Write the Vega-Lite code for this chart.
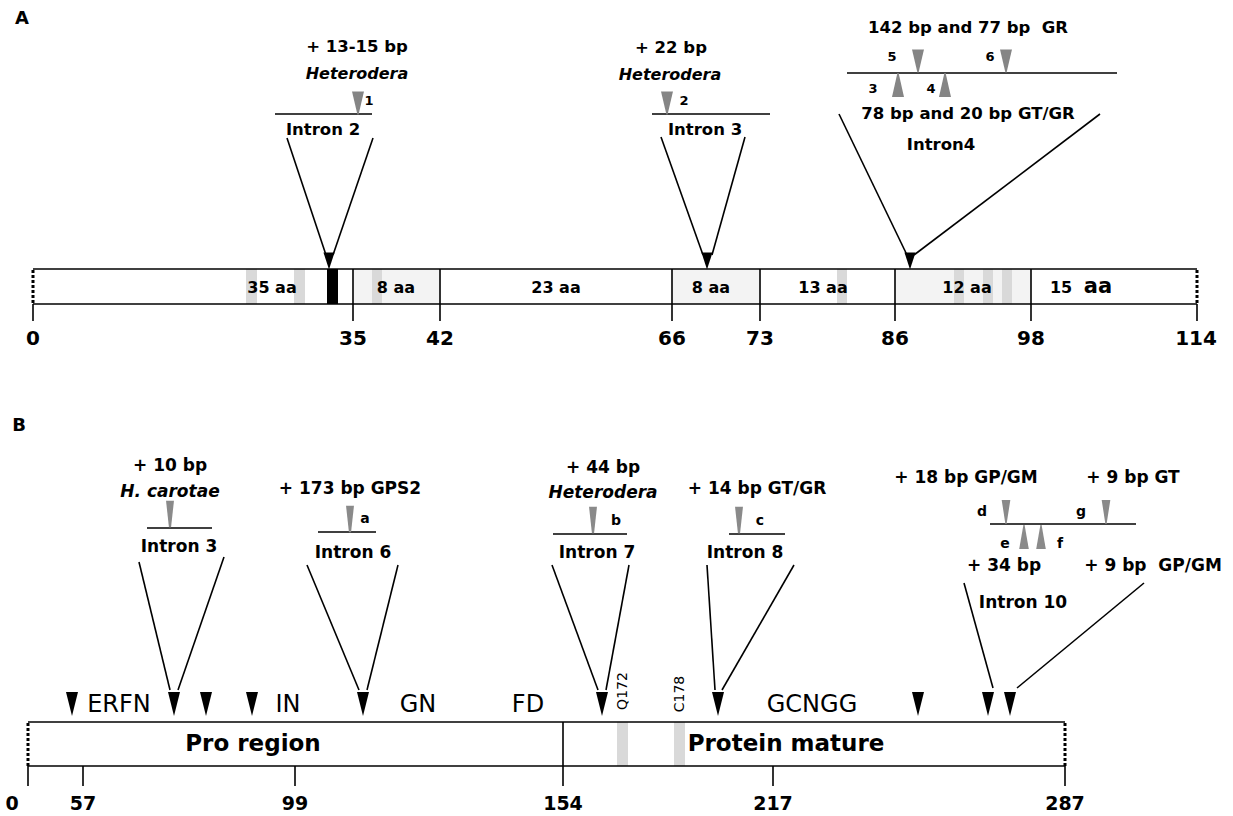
{
  "$schema": "https://vega.github.io/schema/vega-lite/v6.json",
  "width": 1233,
  "height": 816,
  "autosize": {"type": "fit", "contains": "padding"},
  "padding": 0,
  "background": "white",
  "config": {"view": {"stroke": null}},
  "datasets": {
    "boxes": [
      {"x": 353, "x2": 440, "y": 269, "y2": 304, "kind": "dotted"},
      {"x": 672, "x2": 760, "y": 269, "y2": 304, "kind": "dotted"},
      {"x": 895, "x2": 1031, "y": 269, "y2": 304, "kind": "dotted"},
      {"x": 246, "x2": 257, "y": 269, "y2": 304, "kind": "stripe"},
      {"x": 294, "x2": 305, "y": 269, "y2": 304, "kind": "stripe"},
      {"x": 372, "x2": 382, "y": 269, "y2": 304, "kind": "stripe"},
      {"x": 837, "x2": 847, "y": 269, "y2": 304, "kind": "stripe"},
      {"x": 954, "x2": 964, "y": 269, "y2": 304, "kind": "stripe"},
      {"x": 983, "x2": 993, "y": 269, "y2": 304, "kind": "stripe"},
      {"x": 1002, "x2": 1012, "y": 269, "y2": 304, "kind": "stripe"},
      {"x": 327, "x2": 338, "y": 269, "y2": 304, "kind": "black"},
      {"x": 617, "x2": 628, "y": 722, "y2": 766, "kind": "stripe"},
      {"x": 674, "x2": 685, "y": 722, "y2": 766, "kind": "stripe"}
    ],
    "segments": [
      {"x": 33, "y": 269, "x2": 1197, "y2": 269, "kind": "solid"},
      {"x": 33, "y": 304, "x2": 1197, "y2": 304, "kind": "solid"},
      {"x": 33, "y": 304, "x2": 33, "y2": 321, "kind": "solid"},
      {"x": 353, "y": 269, "x2": 353, "y2": 321, "kind": "solid"},
      {"x": 440, "y": 269, "x2": 440, "y2": 321, "kind": "solid"},
      {"x": 672, "y": 269, "x2": 672, "y2": 321, "kind": "solid"},
      {"x": 760, "y": 269, "x2": 760, "y2": 321, "kind": "solid"},
      {"x": 895, "y": 269, "x2": 895, "y2": 321, "kind": "solid"},
      {"x": 1031, "y": 269, "x2": 1031, "y2": 321, "kind": "solid"},
      {"x": 1197, "y": 304, "x2": 1197, "y2": 321, "kind": "solid"},
      {"x": 33, "y": 270, "x2": 33, "y2": 304, "kind": "dot"},
      {"x": 1197, "y": 270, "x2": 1197, "y2": 304, "kind": "dot"},
      {"x": 275, "y": 114, "x2": 372, "y2": 114, "kind": "solid"},
      {"x": 287, "y": 138, "x2": 326, "y2": 255, "kind": "solid"},
      {"x": 373, "y": 138, "x2": 333, "y2": 255, "kind": "solid"},
      {"x": 652, "y": 114, "x2": 770, "y2": 114, "kind": "solid"},
      {"x": 661, "y": 137, "x2": 703, "y2": 255, "kind": "solid"},
      {"x": 745, "y": 137, "x2": 712, "y2": 255, "kind": "solid"},
      {"x": 847, "y": 73, "x2": 1117, "y2": 73, "kind": "solid"},
      {"x": 839, "y": 114, "x2": 907, "y2": 255, "kind": "solid"},
      {"x": 1100, "y": 114, "x2": 914, "y2": 255, "kind": "solid"},
      {"x": 28, "y": 722, "x2": 1065, "y2": 722, "kind": "solid"},
      {"x": 28, "y": 766, "x2": 1065, "y2": 766, "kind": "solid"},
      {"x": 563, "y": 722, "x2": 563, "y2": 786, "kind": "solid"},
      {"x": 28, "y": 766, "x2": 28, "y2": 786, "kind": "solid"},
      {"x": 83, "y": 766, "x2": 83, "y2": 786, "kind": "solid"},
      {"x": 295, "y": 766, "x2": 295, "y2": 786, "kind": "solid"},
      {"x": 773, "y": 766, "x2": 773, "y2": 786, "kind": "solid"},
      {"x": 1065, "y": 766, "x2": 1065, "y2": 786, "kind": "solid"},
      {"x": 28, "y": 723, "x2": 28, "y2": 766, "kind": "dot"},
      {"x": 1065, "y": 723, "x2": 1065, "y2": 766, "kind": "dot"},
      {"x": 147, "y": 528, "x2": 212, "y2": 528, "kind": "solid"},
      {"x": 139, "y": 562, "x2": 170, "y2": 690, "kind": "solid"},
      {"x": 224, "y": 557, "x2": 178, "y2": 690, "kind": "solid"},
      {"x": 318, "y": 532, "x2": 376, "y2": 532, "kind": "solid"},
      {"x": 307, "y": 565, "x2": 359, "y2": 690, "kind": "solid"},
      {"x": 398, "y": 565, "x2": 367, "y2": 690, "kind": "solid"},
      {"x": 553, "y": 534, "x2": 627, "y2": 534, "kind": "solid"},
      {"x": 552, "y": 565, "x2": 598, "y2": 690, "kind": "solid"},
      {"x": 629, "y": 565, "x2": 606, "y2": 690, "kind": "solid"},
      {"x": 729, "y": 534, "x2": 785, "y2": 534, "kind": "solid"},
      {"x": 707, "y": 565, "x2": 715, "y2": 690, "kind": "solid"},
      {"x": 794, "y": 565, "x2": 722, "y2": 690, "kind": "solid"},
      {"x": 990, "y": 524, "x2": 1136, "y2": 524, "kind": "solid"},
      {"x": 964, "y": 583, "x2": 993, "y2": 688, "kind": "solid"},
      {"x": 1144, "y": 583, "x2": 1017, "y2": 688, "kind": "solid"}
    ],
    "triangles": [
      {"x": 358, "y": 103, "kind": "greyDownA"},
      {"x": 667, "y": 103, "kind": "greyDownA"},
      {"x": 918, "y": 61, "kind": "greyDownA"},
      {"x": 1006, "y": 61, "kind": "greyDownA"},
      {"x": 898, "y": 85, "kind": "greyUpA"},
      {"x": 945, "y": 85, "kind": "greyUpA"},
      {"x": 329, "y": 261, "kind": "blackA"},
      {"x": 707, "y": 261, "kind": "blackA"},
      {"x": 910, "y": 261, "kind": "blackA"},
      {"x": 170, "y": 514, "kind": "greyDownB"},
      {"x": 350, "y": 519, "kind": "greyDownB"},
      {"x": 593, "y": 520, "kind": "greyDownB"},
      {"x": 739, "y": 520, "kind": "greyDownB"},
      {"x": 1006, "y": 512, "kind": "greyDownB2"},
      {"x": 1106, "y": 512, "kind": "greyDownB2"},
      {"x": 1024, "y": 537, "kind": "greyUpB"},
      {"x": 1041, "y": 537, "kind": "greyUpB"},
      {"x": 72, "y": 704, "kind": "blackB"},
      {"x": 174, "y": 704, "kind": "blackB"},
      {"x": 206, "y": 704, "kind": "blackB"},
      {"x": 252, "y": 704, "kind": "blackB"},
      {"x": 363, "y": 704, "kind": "blackB"},
      {"x": 602, "y": 704, "kind": "blackB"},
      {"x": 718, "y": 704, "kind": "blackB"},
      {"x": 918, "y": 704, "kind": "blackB"},
      {"x": 988, "y": 704, "kind": "blackB"},
      {"x": 1010, "y": 704, "kind": "blackB"}
    ],
    "texts": [
      {"x": 22, "y": 19, "text": "A", "kind": "panel"},
      {"x": 19, "y": 426, "text": "B", "kind": "panel"},
      {"x": 357, "y": 47, "text": "+ 13-15 bp", "kind": "aLab"},
      {"x": 357, "y": 74, "text": "Heterodera", "kind": "aIt"},
      {"x": 323, "y": 130, "text": "Intron 2", "kind": "aLab"},
      {"x": 671, "y": 48, "text": "+ 22 bp", "kind": "aLab"},
      {"x": 670, "y": 75, "text": "Heterodera", "kind": "aIt"},
      {"x": 705, "y": 130, "text": "Intron 3", "kind": "aLab"},
      {"x": 968, "y": 28, "text": "142 bp and 77 bp\u00a0 GR", "kind": "aLab"},
      {"x": 968, "y": 114, "text": "78 bp and 20 bp GT/GR", "kind": "aLab"},
      {"x": 941, "y": 145, "text": "Intron4", "kind": "aLab"},
      {"x": 369, "y": 101, "text": "1", "kind": "aNum"},
      {"x": 684, "y": 101, "text": "2", "kind": "aNum"},
      {"x": 892, "y": 57, "text": "5", "kind": "aNum"},
      {"x": 990, "y": 57, "text": "6", "kind": "aNum"},
      {"x": 873, "y": 89, "text": "3", "kind": "aNum"},
      {"x": 931, "y": 89, "text": "4", "kind": "aNum"},
      {"x": 272, "y": 288, "text": "35 aa", "kind": "aSeg"},
      {"x": 396, "y": 288, "text": "8 aa", "kind": "aSeg"},
      {"x": 556, "y": 288, "text": "23 aa", "kind": "aSeg"},
      {"x": 711, "y": 288, "text": "8 aa", "kind": "aSeg"},
      {"x": 823, "y": 288, "text": "13 aa", "kind": "aSeg"},
      {"x": 967, "y": 288, "text": "12 aa", "kind": "aSeg"},
      {"x": 1061, "y": 288, "text": "15", "kind": "aSeg"},
      {"x": 1098, "y": 287, "text": "aa", "kind": "aSegBig"},
      {"x": 33, "y": 339, "text": "0", "kind": "aTick"},
      {"x": 353, "y": 339, "text": "35", "kind": "aTick"},
      {"x": 440, "y": 339, "text": "42", "kind": "aTick"},
      {"x": 672, "y": 339, "text": "66", "kind": "aTick"},
      {"x": 760, "y": 339, "text": "73", "kind": "aTick"},
      {"x": 895, "y": 339, "text": "86", "kind": "aTick"},
      {"x": 1031, "y": 339, "text": "98", "kind": "aTick"},
      {"x": 1196, "y": 339, "text": "114", "kind": "aTick"},
      {"x": 170, "y": 466, "text": "+ 10 bp", "kind": "bLab"},
      {"x": 170, "y": 492, "text": "H. carotae", "kind": "bIt"},
      {"x": 179, "y": 547, "text": "Intron 3", "kind": "bLab"},
      {"x": 350, "y": 489, "text": "+ 173 bp GPS2", "kind": "bLab"},
      {"x": 353, "y": 553, "text": "Intron 6", "kind": "bLab"},
      {"x": 603, "y": 468, "text": "+ 44 bp", "kind": "bLab"},
      {"x": 603, "y": 493, "text": "Heterodera", "kind": "bIt"},
      {"x": 597, "y": 553, "text": "Intron 7", "kind": "bLab"},
      {"x": 757, "y": 489, "text": "+ 14 bp GT/GR", "kind": "bLab"},
      {"x": 745, "y": 553, "text": "Intron 8", "kind": "bLab"},
      {"x": 966, "y": 478, "text": "+ 18 bp GP/GM", "kind": "bLab"},
      {"x": 1133, "y": 478, "text": "+ 9 bp GT", "kind": "bLab"},
      {"x": 1004, "y": 566, "text": "+ 34 bp", "kind": "bLab"},
      {"x": 1153, "y": 566, "text": "+ 9 bp\u00a0 GP/GM", "kind": "bLab"},
      {"x": 1023, "y": 603, "text": "Intron 10", "kind": "bLab"},
      {"x": 365, "y": 519, "text": "a", "kind": "bLet"},
      {"x": 616, "y": 521, "text": "b", "kind": "bLet"},
      {"x": 760, "y": 521, "text": "c", "kind": "bLet"},
      {"x": 982, "y": 512, "text": "d", "kind": "bLet"},
      {"x": 1081, "y": 512, "text": "g", "kind": "bLet"},
      {"x": 1005, "y": 544, "text": "e", "kind": "bLet"},
      {"x": 1060, "y": 544, "text": "f", "kind": "bLet"},
      {"x": 119, "y": 705, "text": "ERFN", "kind": "bMotif"},
      {"x": 288, "y": 705, "text": "IN", "kind": "bMotif"},
      {"x": 418, "y": 705, "text": "GN", "kind": "bMotif"},
      {"x": 528, "y": 705, "text": "FD", "kind": "bMotif"},
      {"x": 812, "y": 705, "text": "GCNGG", "kind": "bMotif"},
      {"x": 253, "y": 744, "text": "Pro region", "kind": "bRegion"},
      {"x": 786, "y": 744, "text": "Protein mature", "kind": "bRegion"},
      {"x": 12, "y": 804, "text": "0", "kind": "bTick"},
      {"x": 83, "y": 804, "text": "57", "kind": "bTick"},
      {"x": 295, "y": 804, "text": "99", "kind": "bTick"},
      {"x": 563, "y": 804, "text": "154", "kind": "bTick"},
      {"x": 773, "y": 804, "text": "217", "kind": "bTick"},
      {"x": 1065, "y": 804, "text": "287", "kind": "bTick"},
      {"x": 623, "y": 691, "text": "Q172", "kind": "bRot"},
      {"x": 680, "y": 694, "text": "C178", "kind": "bRot"}
    ]
  },
  "encoding": {
    "x": {"field": "x", "type": "quantitative", "scale": {"domain": [0, 1233], "nice": false, "zero": false}, "axis": null},
    "y": {"field": "y", "type": "quantitative", "scale": {"domain": [0, 816], "nice": false, "zero": false, "reverse": true}, "axis": null}
  },
  "layer": [
    {"data": {"name": "boxes"}, "transform": [{"filter": "datum.kind === 'dotted'"}],
     "mark": {"type": "rect", "fill": "#f3f3f3", "stroke": null},
     "encoding": {"x2": {"field": "x2"}, "y2": {"field": "y2"}}},
    {"data": {"name": "boxes"}, "transform": [{"filter": "datum.kind === 'stripe'"}],
     "mark": {"type": "rect", "fill": "#d9d9d9", "stroke": null},
     "encoding": {"x2": {"field": "x2"}, "y2": {"field": "y2"}}},
    {"data": {"name": "boxes"}, "transform": [{"filter": "datum.kind === 'black'"}],
     "mark": {"type": "rect", "fill": "#000000", "stroke": null},
     "encoding": {"x2": {"field": "x2"}, "y2": {"field": "y2"}}},
    {"data": {"name": "segments"}, "transform": [{"filter": "datum.kind === 'solid'"}],
     "mark": {"type": "rule", "color": "#000000", "strokeWidth": 1.6},
     "encoding": {"x2": {"field": "x2"}, "y2": {"field": "y2"}}},
    {"data": {"name": "segments"}, "transform": [{"filter": "datum.kind === 'dot'"}],
     "mark": {"type": "rule", "color": "#000000", "strokeWidth": 3, "strokeDash": [3, 2]},
     "encoding": {"x2": {"field": "x2"}, "y2": {"field": "y2"}}},
    {"data": {"name": "triangles"}, "transform": [{"filter": "datum.kind === 'greyDownA'"}],
     "mark": {"type": "point", "shape": "M-0.52,-1L0.52,-1L0.05,1L-0.05,1Z", "size": 529, "filled": true, "color": "#858585", "opacity": 1}},
    {"data": {"name": "triangles"}, "transform": [{"filter": "datum.kind === 'greyUpA'"}],
     "mark": {"type": "point", "shape": "M-0.5,1L0.5,1L0.05,-1L-0.05,-1Z", "size": 576, "filled": true, "color": "#858585", "opacity": 1}},
    {"data": {"name": "triangles"}, "transform": [{"filter": "datum.kind === 'blackA'"}],
     "mark": {"type": "point", "shape": "M-0.65,-1L0.65,-1L0,1Z", "size": 289, "filled": true, "color": "#000000", "opacity": 1}},
    {"data": {"name": "triangles"}, "transform": [{"filter": "datum.kind === 'greyDownB'"}],
     "mark": {"type": "point", "shape": "M-0.3,-1L0.3,-1L0.08,1L-0.08,1Z", "size": 700, "filled": true, "color": "#8a8a8a", "opacity": 1}},
    {"data": {"name": "triangles"}, "transform": [{"filter": "datum.kind === 'greyDownB2'"}],
     "mark": {"type": "point", "shape": "M-0.36,-1L0.36,-1L0.05,1L-0.05,1Z", "size": 576, "filled": true, "color": "#8a8a8a", "opacity": 1}},
    {"data": {"name": "triangles"}, "transform": [{"filter": "datum.kind === 'greyUpB'"}],
     "mark": {"type": "point", "shape": "M-0.4,1L0.4,1L0.05,-1L-0.05,-1Z", "size": 576, "filled": true, "color": "#8a8a8a", "opacity": 1}},
    {"data": {"name": "triangles"}, "transform": [{"filter": "datum.kind === 'blackB'"}],
     "mark": {"type": "point", "shape": "M-0.5,-1L0.5,-1L0,1Z", "size": 576, "filled": true, "color": "#000000", "opacity": 1}},
    {"data": {"name": "texts"}, "transform": [{"filter": "datum.kind === 'panel'"}],
     "mark": {"type": "text", "font": "DejaVu Sans", "fontWeight": "bold", "fontSize": 18, "align": "center", "baseline": "middle", "color": "#000"},
     "encoding": {"text": {"field": "text"}}},
    {"data": {"name": "texts"}, "transform": [{"filter": "datum.kind === 'aLab'"}],
     "mark": {"type": "text", "font": "DejaVu Sans", "fontWeight": "bold", "fontSize": 16.5, "align": "center", "baseline": "middle", "color": "#000"},
     "encoding": {"text": {"field": "text"}}},
    {"data": {"name": "texts"}, "transform": [{"filter": "datum.kind === 'aIt'"}],
     "mark": {"type": "text", "font": "DejaVu Sans", "fontWeight": "bold", "fontStyle": "italic", "fontSize": 16, "align": "center", "baseline": "middle", "color": "#000"},
     "encoding": {"text": {"field": "text"}}},
    {"data": {"name": "texts"}, "transform": [{"filter": "datum.kind === 'aNum'"}],
     "mark": {"type": "text", "font": "DejaVu Sans", "fontWeight": "bold", "fontSize": 13, "align": "center", "baseline": "middle", "color": "#000"},
     "encoding": {"text": {"field": "text"}}},
    {"data": {"name": "texts"}, "transform": [{"filter": "datum.kind === 'aSeg'"}],
     "mark": {"type": "text", "font": "DejaVu Sans", "fontWeight": "bold", "fontSize": 16, "align": "center", "baseline": "middle", "color": "#000"},
     "encoding": {"text": {"field": "text"}}},
    {"data": {"name": "texts"}, "transform": [{"filter": "datum.kind === 'aSegBig'"}],
     "mark": {"type": "text", "font": "DejaVu Sans", "fontWeight": "bold", "fontSize": 21, "align": "center", "baseline": "middle", "color": "#000"},
     "encoding": {"text": {"field": "text"}}},
    {"data": {"name": "texts"}, "transform": [{"filter": "datum.kind === 'aTick'"}],
     "mark": {"type": "text", "font": "DejaVu Sans", "fontWeight": "bold", "fontSize": 20, "align": "center", "baseline": "middle", "color": "#000"},
     "encoding": {"text": {"field": "text"}}},
    {"data": {"name": "texts"}, "transform": [{"filter": "datum.kind === 'bLab'"}],
     "mark": {"type": "text", "font": "DejaVu Sans", "fontWeight": "bold", "fontSize": 17, "align": "center", "baseline": "middle", "color": "#000"},
     "encoding": {"text": {"field": "text"}}},
    {"data": {"name": "texts"}, "transform": [{"filter": "datum.kind === 'bIt'"}],
     "mark": {"type": "text", "font": "DejaVu Sans", "fontWeight": "bold", "fontStyle": "italic", "fontSize": 17, "align": "center", "baseline": "middle", "color": "#000"},
     "encoding": {"text": {"field": "text"}}},
    {"data": {"name": "texts"}, "transform": [{"filter": "datum.kind === 'bLet'"}],
     "mark": {"type": "text", "font": "DejaVu Sans", "fontWeight": "bold", "fontSize": 14, "align": "center", "baseline": "middle", "color": "#000"},
     "encoding": {"text": {"field": "text"}}},
    {"data": {"name": "texts"}, "transform": [{"filter": "datum.kind === 'bMotif'"}],
     "mark": {"type": "text", "font": "DejaVu Sans", "fontWeight": "normal", "fontSize": 24, "align": "center", "baseline": "middle", "color": "#000"},
     "encoding": {"text": {"field": "text"}}},
    {"data": {"name": "texts"}, "transform": [{"filter": "datum.kind === 'bRegion'"}],
     "mark": {"type": "text", "font": "DejaVu Sans", "fontWeight": "bold", "fontSize": 23, "align": "center", "baseline": "middle", "color": "#000"},
     "encoding": {"text": {"field": "text"}}},
    {"data": {"name": "texts"}, "transform": [{"filter": "datum.kind === 'bTick'"}],
     "mark": {"type": "text", "font": "DejaVu Sans", "fontWeight": "bold", "fontSize": 19, "align": "center", "baseline": "middle", "color": "#000"},
     "encoding": {"text": {"field": "text"}}},
    {"data": {"name": "texts"}, "transform": [{"filter": "datum.kind === 'bRot'"}],
     "mark": {"type": "text", "font": "DejaVu Sans", "fontWeight": "normal", "fontSize": 14, "angle": 270, "align": "center", "baseline": "middle", "color": "#000"},
     "encoding": {"text": {"field": "text"}}}
  ]
}
